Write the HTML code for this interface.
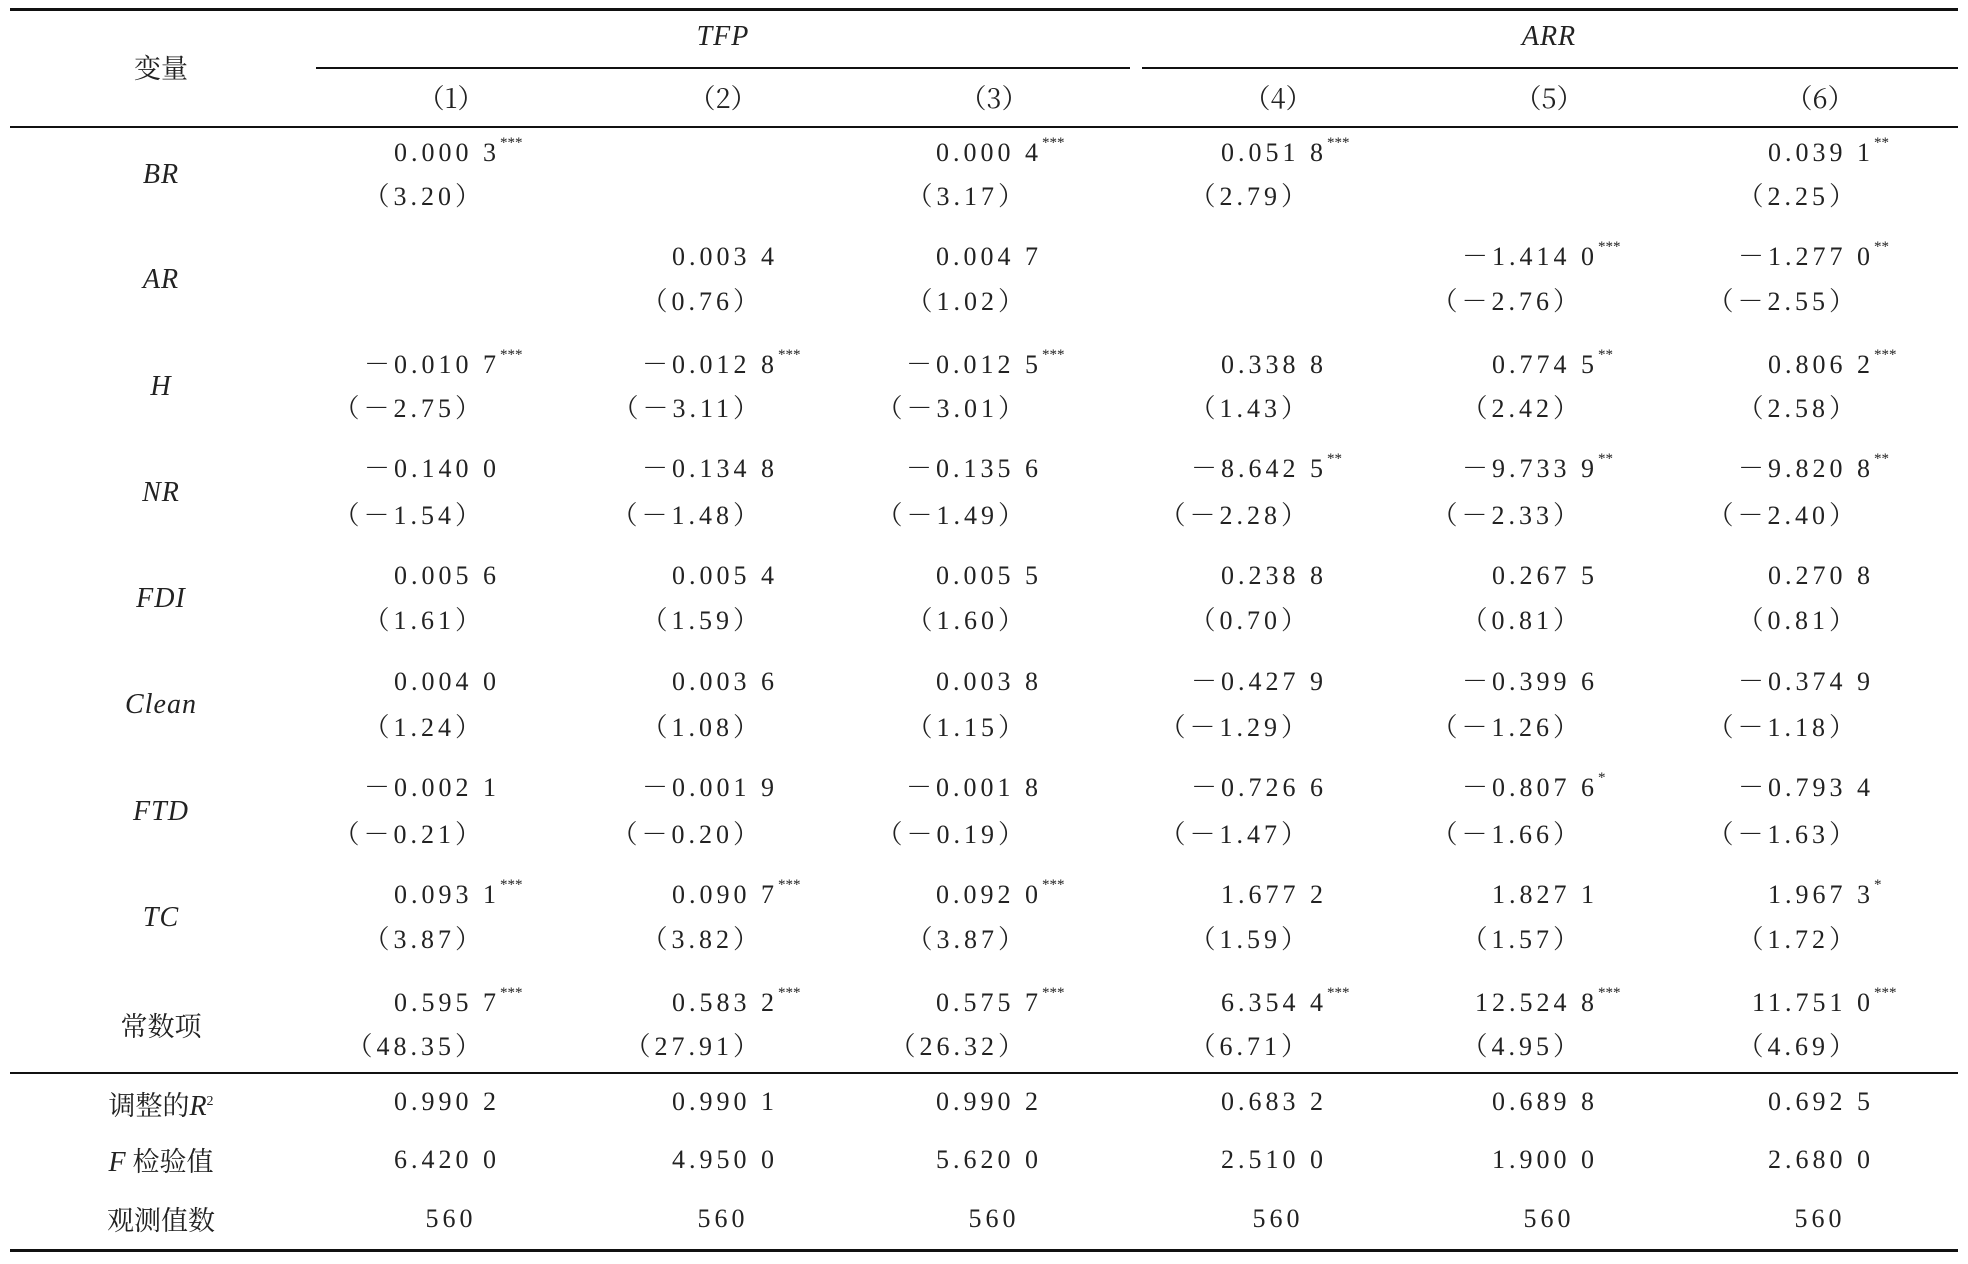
<!DOCTYPE html>
<html><head><meta charset="utf-8">
<style>
html,body{margin:0;padding:0;background:#fff;}
#wrap{position:relative;width:1968px;height:1264px;overflow:hidden;background:#fff;font-family:"Liberation Serif","Noto Serif CJK SC",serif;color:#222;}
.rule{position:absolute;background:#111;}
.t{position:absolute;white-space:nowrap;font-size:26px;line-height:30px;letter-spacing:4px;}
.r{transform:translateX(-100%);}
.c{transform:translateX(-50%);}
.it{font-style:italic;letter-spacing:1px;font-size:28px;}
.cn{font-family:"Noto Serif CJK SC","Liberation Serif",serif;font-size:27px;letter-spacing:0;}
.star{position:absolute;font-size:15px;line-height:15px;letter-spacing:0;top:-2px;}
</style></head><body>
<div id="wrap">
<div class="rule" style="left:10px;top:8px;width:1948px;height:3px"></div>
<div class="rule" style="left:316px;top:67px;width:814px;height:2px"></div>
<div class="rule" style="left:1142px;top:67px;width:816px;height:2px"></div>
<div class="rule" style="left:10px;top:126px;width:1948px;height:2px"></div>
<div class="rule" style="left:10px;top:1072px;width:1948px;height:2px"></div>
<div class="rule" style="left:10px;top:1249px;width:1948px;height:3px"></div>
<div class="t c cn" style="left:161px;top:52px">变量</div>
<div class="t c it" style="left:723px;top:22px">TFP</div>
<div class="t c it" style="left:1549px;top:22px">ARR</div>
</div>
<script>
const colNames=["（1）","（2）","（3）","（4）","（5）","（6）"];
const rowLabels=["BR","AR","H","NR","FDI","Clean","FTD","TC","常数项"];
const coefs=[
["0.000 3","","0.000 4","0.051 8","","0.039 1"],
["","0.003 4","0.004 7","","－1.414 0","－1.277 0"],
["－0.010 7","－0.012 8","－0.012 5","0.338 8","0.774 5","0.806 2"],
["－0.140 0","－0.134 8","－0.135 6","－8.642 5","－9.733 9","－9.820 8"],
["0.005 6","0.005 4","0.005 5","0.238 8","0.267 5","0.270 8"],
["0.004 0","0.003 6","0.003 8","－0.427 9","－0.399 6","－0.374 9"],
["－0.002 1","－0.001 9","－0.001 8","－0.726 6","－0.807 6","－0.793 4"],
["0.093 1","0.090 7","0.092 0","1.677 2","1.827 1","1.967 3"],
["0.595 7","0.583 2","0.575 7","6.354 4","12.524 8","11.751 0"]];
const stars=[
["***","","***","***","","**"],
["","","","","***","**"],
["***","***","***","","**","***"],
["","","","**","**","**"],
["","","","","",""],
["","","","","",""],
["","","","","*",""],
["***","***","***","","","*"],
["***","***","***","***","***","***"]];
const tvals=[
["3.20","","3.17","2.79","","2.25"],
["","0.76","1.02","","－2.76","－2.55"],
["－2.75","－3.11","－3.01","1.43","2.42","2.58"],
["－1.54","－1.48","－1.49","－2.28","－2.33","－2.40"],
["1.61","1.59","1.60","0.70","0.81","0.81"],
["1.24","1.08","1.15","－1.29","－1.26","－1.18"],
["－0.21","－0.20","－0.19","－1.47","－1.66","－1.63"],
["3.87","3.82","3.87","1.59","1.57","1.72"],
["48.35","27.91","26.32","6.71","4.95","4.69"]];
const r2=["0.990 2","0.990 1","0.990 2","0.683 2","0.689 8","0.692 5"];
const fvals=["6.420 0","4.950 0","5.620 0","2.510 0","1.900 0","2.680 0"];
const nobs=["560","560","560","560","560","560"];

const W=document.getElementById('wrap');
const colC=[451,723,994,1278,1549,1820];
const coefR=[500,778,1042,1327,1598,1874];
const tR=[471,749,1014,1297,1569,1845];
const coefY=[138,242,350,454,561,667,773,880,988];
const tY=[182,287,394,501,606,713,820,925,1032];
function mk(txt,cls,x,y,name){
  const d=document.createElement('div');
  d.className='t '+cls;
  d.textContent=txt;
  d.style.left=x+'px';d.style.top=y+'px';
  
  
  W.appendChild(d);return d;
}
colNames.forEach((n,j)=>{mk(n,'c cn',colC[j],82,'column-number-'+(j+1));});
rowLabels.forEach((lab,i)=>{
  const y=(coefY[i]+tY[i])/2;
  mk(lab,'c '+(i===8?'cn':'it'),161,y,'row-label-'+(i+1));
  for(let j=0;j<6;j++){
    if(coefs[i][j]){
      const d=mk(coefs[i][j],'r',coefR[j],coefY[i],'coef-r'+(i+1)+'-c'+(j+1));
      if(stars[i][j]){
        const s=document.createElement('span');
        s.className='star';s.textContent=stars[i][j];
        s.style.left='100%';
        
        
        d.appendChild(s);
      }
    }
    if(tvals[i][j]){
      mk('（'+tvals[i][j]+'）','r',tR[j]+14,tY[i],'tstat-r'+(i+1)+'-c'+(j+1));
    }
  }
});
const r2l=mk('调整的 ','c cn',161,1087,'adj-r2-label');
r2l.innerHTML='调整的<i style="font-family:Liberation Serif;font-size:28px">R</i><sup style="font-size:14px;font-family:Liberation Serif">2</sup>';
const fl=mk('','c cn',161,1145,'f-test-label');
fl.innerHTML='<i style="font-family:Liberation Serif;font-size:28px">F</i> 检验值';
mk('观测值数','c cn',161,1204,'obs-label');
for(let j=0;j<6;j++){
  mk(r2[j],'r',coefR[j],1087,'adj-r2-c'+(j+1));
  mk(fvals[j],'r',coefR[j],1145,'f-value-c'+(j+1));
  mk(nobs[j],'c',colC[j],1204,'obs-c'+(j+1));
}
</script>
</body></html>
